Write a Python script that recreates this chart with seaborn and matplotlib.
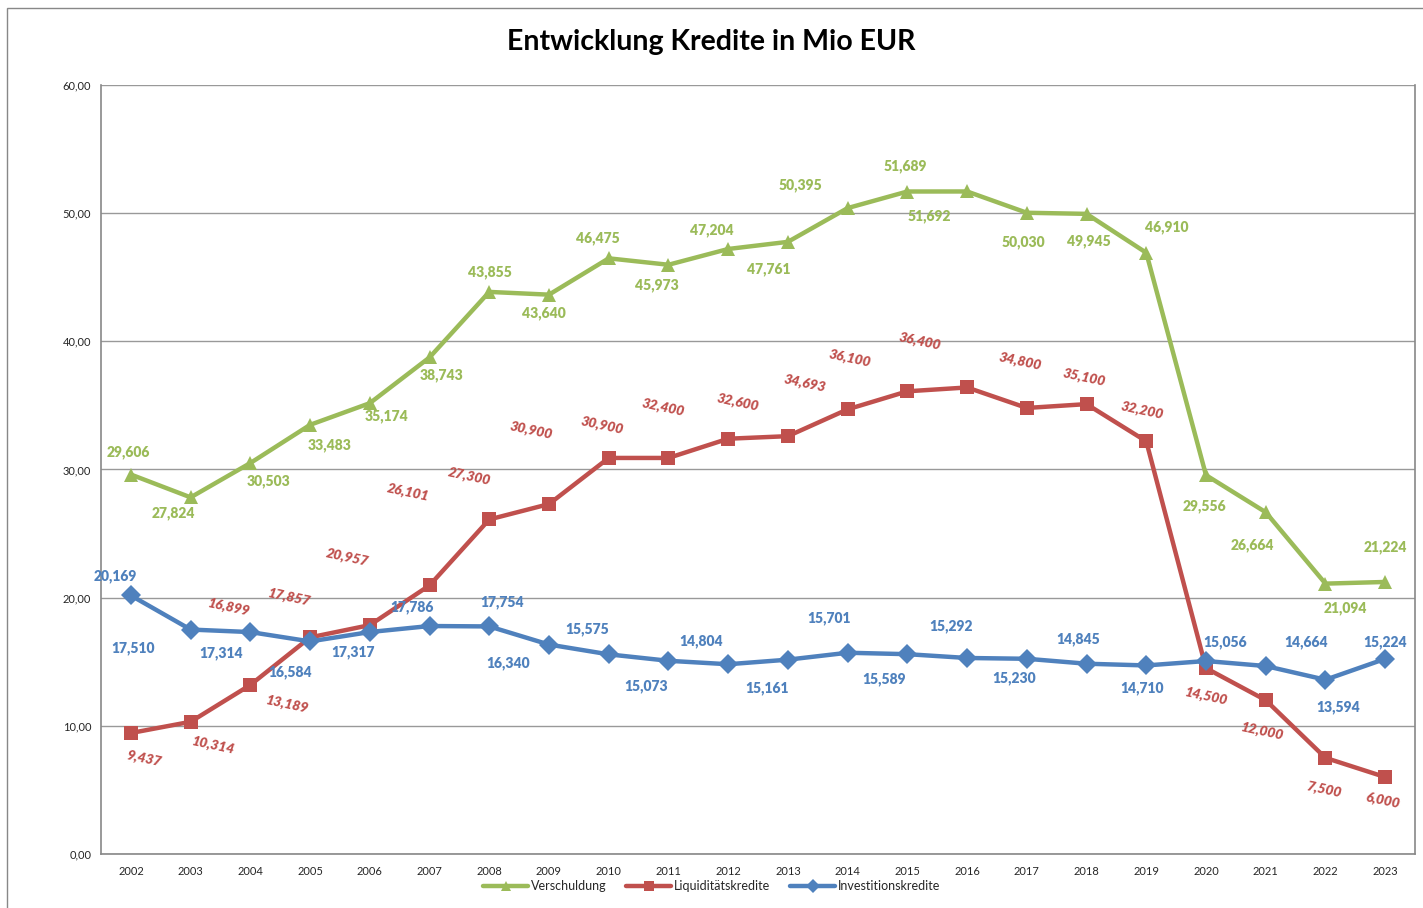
import numpy as np
import pandas as pd
import matplotlib
matplotlib.use("Agg")
import matplotlib.pyplot as plt
import seaborn as sns
from matplotlib.ticker import FixedLocator, FuncFormatter
from matplotlib.patches import Rectangle

years = list(range(2002, 2024))

verschuldung = [29.606, 27.824, 30.503, 33.483, 35.174, 38.743, 43.855, 43.640,
                46.475, 45.973, 47.204, 47.761, 50.395, 51.689, 51.692, 50.030,
                49.945, 46.910, 29.556, 26.664, 21.094, 21.224]
liquiditaet = [9.437, 10.314, 13.189, 16.899, 17.857, 20.957, 26.101, 27.300,
               30.900, 30.900, 32.400, 32.600, 34.693, 36.100, 36.400, 34.800,
               35.100, 32.200, 14.500, 12.000, 7.500, 6.000]
investition = [20.169, 17.510, 17.314, 16.584, 17.317, 17.786, 17.754, 16.340,
               15.575, 15.073, 14.804, 15.161, 15.701, 15.589, 15.292, 15.230,
               14.845, 14.710, 15.056, 14.664, 13.594, 15.224]

series_names = ["Verschuldung", "Liquiditätskredite", "Investitionskredite"]
colors = {"Verschuldung": "#9BBB59", "Liquiditätskredite": "#C0504D",
          "Investitionskredite": "#4F81BD"}
markers = {"Verschuldung": "^", "Liquiditätskredite": "s",
           "Investitionskredite": "D"}

# Label-Versatz in Pixeln (wie im Excel-Original manuell verschoben)
off_gruen = [(-3, 22), (-17, -16), (18, -18), (20, -20), (17, -13), (12, -18),
             (1, 20), (-5, -18), (-11, 20), (-12, -20), (-16, 19), (-19, -27),
             (-47, 23), (-2, 25), (-38, -25), (-3, -29), (2, -27), (20, 26),
             (-2, -31), (-13, -33), (20, -25), (0, 35)]
off_rot = [(13, -26), (23, -24), (37, -20), (-81, 30), (-81, 28), (-82, 28),
           (-81, 27), (-80, 28), (-78, 27), (-66, 32), (-65, 31), (-50, 34),
           (-43, 26), (-58, 33), (-47, 46), (-7, 46), (-2, 27), (-4, 31),
           (0, -28), (-3, -31), (-2, -32), (-2, -24)]
off_blau = [(-16, 19), (-58, -19), (-29, -21), (-20, -31), (-17, -20), (-18, 19),
            (13, 24), (-41, -19), (-22, 25), (-22, -25), (-27, 23), (-21, -28),
            (-19, 35), (-23, -25), (-16, 32), (-13, -19), (-8, 25), (-4, -23),
            (19, 19), (40, 24), (13, -27), (0, 17)]

df = pd.DataFrame({
    "Jahr": years * 3,
    "Wert": verschuldung + liquiditaet + investition,
    "Reihe": sum([[n] * len(years) for n in series_names], []),
})

sns.set_style("white")
plt.rcParams["font.family"] = ["Lato", "DejaVu Sans"]

fig = plt.figure(figsize=(14.23, 9.08), dpi=100)
ax = fig.add_axes([0.0710, 0.0595, 0.9234, 0.8469])

sns.lineplot(data=df, x="Jahr", y="Wert", hue="Reihe", style="Reihe",
             hue_order=series_names, style_order=series_names,
             palette=colors, markers=markers, dashes=False, linewidth=3.2,
             markersize=10.5, markeredgewidth=0, ax=ax, legend=True, sort=False)

# Datenbeschriftungen
for vals, offs, name, italic in [(verschuldung, off_gruen, "Verschuldung", False),
                                 (liquiditaet, off_rot, "Liquiditätskredite", True),
                                 (investition, off_blau, "Investitionskredite", False)]:
    for x, v, (dx, dy) in zip(years, vals, offs):
        ax.annotate(f"{v:.3f}".replace(".", ","), (x, v), xytext=(dx, dy),
                    textcoords="offset pixels", ha="center", va="center",
                    fontsize=10, fontweight="heavy", color=colors[name],
                    style="italic" if italic else "normal",
                    rotation=-12 if italic else 0)

ax.set_xlim(2001.5, 2023.5)
ax.set_ylim(0, 60)
ax.set_xticks(years)
ax.set_xticklabels([str(y) for y in years], fontsize=8)
ax.xaxis.set_minor_locator(FixedLocator(np.arange(2001.5, 2024, 1)))
ax.tick_params(axis="x", which="major", length=0, pad=9)
ax.tick_params(axis="x", which="minor", length=5, color="#888888", direction="out")
ax.set_yticks(range(0, 61, 10))
ax.yaxis.set_major_formatter(FuncFormatter(lambda v, p: f"{v:.2f}".replace(".", ",")))
ax.tick_params(axis="y", length=4, color="#888888", direction="out", labelsize=8, pad=3)
ax.grid(axis="y", color="#999999", linewidth=1)
ax.set_axisbelow(True)
ax.set_xlabel("")
ax.set_ylabel("")
for s in ["left", "bottom", "right"]:
    ax.spines[s].set_color("#888888")
    ax.spines[s].set_linewidth(1.2)
ax.spines["top"].set_visible(False)

handles, labels = ax.get_legend_handles_labels()
ax.legend(handles, labels, loc="lower center", bbox_to_anchor=(0.5, 0.005),
          bbox_transform=fig.transFigure, ncol=3, frameon=False, fontsize=9,
          handlelength=3.6, handletextpad=0.2, columnspacing=1.6, markerscale=0.7)

fig.text(0.5, 0.954, "Entwicklung Kredite in Mio EUR", ha="center", va="center",
         fontsize=20.5, fontweight="bold", color="black")

fig.patches.append(Rectangle((0.005, -0.01), 1.2, 1.001, transform=fig.transFigure,
                             fill=False, edgecolor="#888888", linewidth=1))

fig.savefig("out.png", dpi=100)
